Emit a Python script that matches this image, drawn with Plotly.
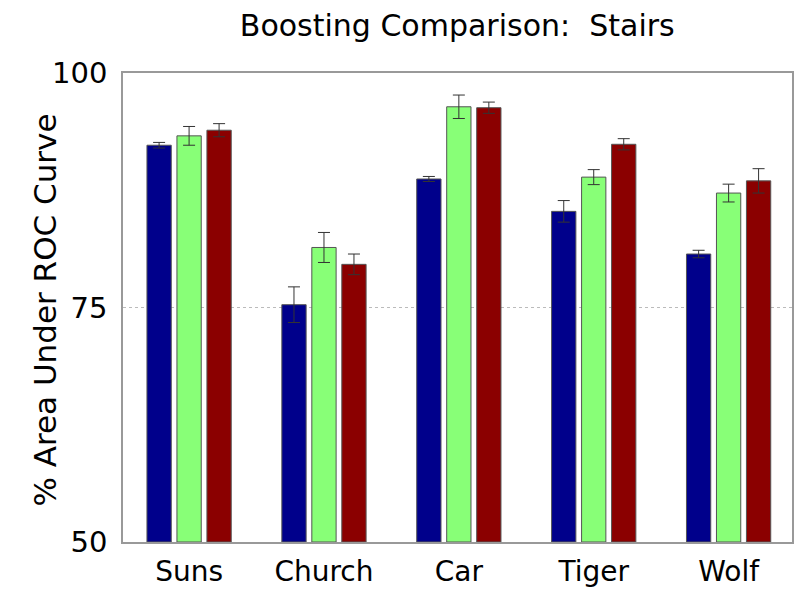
import plotly.graph_objects as go

categories = ["Suns", "Church", "Car", "Tiger", "Wolf"]

blue_vals = [92.3, 75.3, 88.7, 85.25, 80.7]
blue_err = [0.3, 1.9, 0.27, 1.15, 0.4]

green_vals = [93.3, 81.4, 96.4, 88.9, 87.2]
green_err = [1.0, 1.6, 1.25, 0.8, 0.95]

red_vals = [93.9, 79.6, 96.3, 92.4, 88.5]
red_err = [0.7, 1.1, 0.6, 0.6, 1.3]

y_ticks = [50, 75, 100]

series = [
    (blue_vals, blue_err, "#00008B"),
    (green_vals, green_err, "#88FF77"),
    (red_vals, red_err, "#8B0000"),
]

FONT = "DejaVu Sans"

fig = go.Figure()
x_pos = list(range(len(categories)))
for vals, errs, color in series:
    fig.add_trace(go.Bar(
        x=x_pos,
        y=[v - 50 for v in vals],
        base=50,
        marker=dict(color=color, line=dict(color="#555555", width=1)),
        error_y=dict(type="data", array=errs, color="#333333", thickness=1, width=6),
        showlegend=False,
    ))

fig.update_layout(
    width=798, height=594,
    margin=dict(l=123, r=6, t=73, b=52, autoexpand=False),
    paper_bgcolor="white", plot_bgcolor="white",
    barmode="group", bargap=0.333, bargroupgap=0.19,
    title=dict(text="Boosting Comparison:  Stairs", x=0.573, xanchor="center",
               y=0.957, yanchor="middle",
               font=dict(family=FONT, size=30, color="black")),
    font=dict(family=FONT, color="black"),
)

# vertical axis caption placed as a rotated annotation left of the tick labels
fig.add_annotation(
    text="% Area Under ROC Curve", textangle=-90,
    xref="paper", yref="paper", x=-0.117, y=0.495,
    xanchor="center", yanchor="middle", showarrow=False,
    font=dict(family=FONT, size=31, color="black"),
)

fig.update_xaxes(
    range=[-0.49, 4.47],
    tickvals=x_pos, ticktext=categories,
    tickfont=dict(size=28), ticks="", ticklabelstandoff=4,
    showline=True, linecolor="#999999", linewidth=1.5, mirror=True,
    showgrid=False, zeroline=False, automargin=False,
)
fig.update_yaxes(
    range=[50, 100],
    tickvals=y_ticks, ticktext=[str(t) for t in y_ticks],
    tickfont=dict(size=29), ticks="", ticklabelstandoff=8,
    showline=True, linecolor="#999999", linewidth=1.5, mirror=True,
    showgrid=True, gridcolor="#bbbbbb", griddash="dot", gridwidth=1,
    zeroline=False, automargin=False,
)

fig.write_html("out.html")
